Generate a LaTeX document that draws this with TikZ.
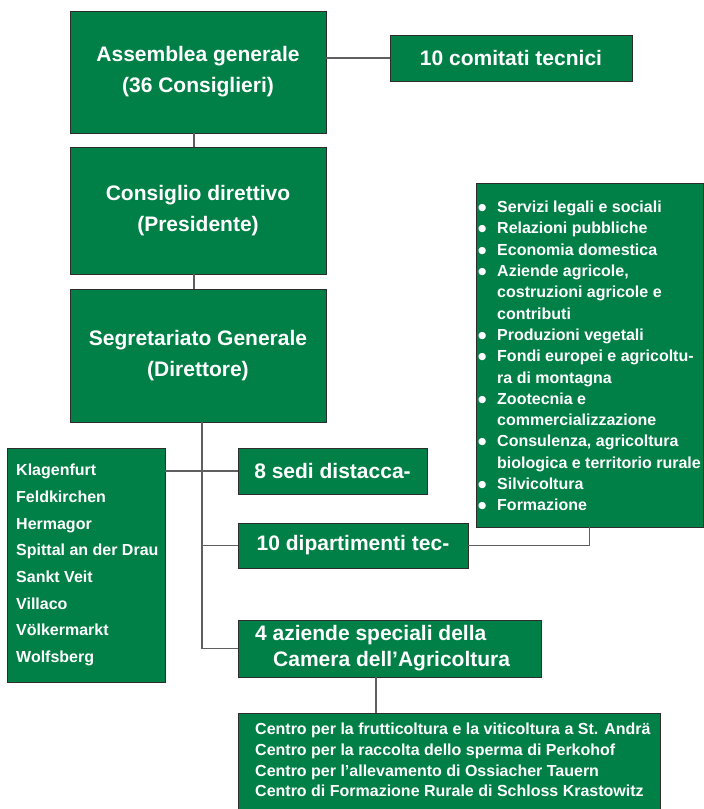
\documentclass[tikz,border=0pt]{standalone}
\usepackage{fontspec}
\setmainfont{Liberation Sans}
\newfontfamily\dejavu{DejaVu Sans}
\usetikzlibrary{calc}
\definecolor{boxgreen}{RGB}{0,128,70}
\definecolor{boxedge}{RGB}{45,45,45}
\definecolor{linkgray}{RGB}{95,95,95}
\newcommand{\bul}{\makebox[19pt][l]{\raisebox{2pt}{\fontsize{9.5}{9.5}\selectfont\dejavu ●}}}
\newcommand{\ind}{\hspace*{19pt}}
\begin{document}
\begin{tikzpicture}[x=1pt,y=-1pt,
  gbox/.style={draw=boxedge, line width=0.9pt, fill=boxgreen, inner sep=0pt, text=white,
    font=\bfseries\fontsize{21}{31}\selectfont, align=center},
  ltext/.style={text=white, inner sep=0pt, anchor=west, align=left},
  link/.style={draw=linkgray, line width=1.3pt}]
\useasboundingbox (0,0) rectangle (704,809);

% boxes
\node[gbox, minimum width=256pt, minimum height=122pt] (asm) at (198,72) {Assemblea generale\\(36 Consiglieri)};
\node[gbox, minimum width=242pt, minimum height=46pt] (ctc) at (511,58) {10 comitati tecnici};
\node[gbox, minimum width=256pt, minimum height=127pt] (cd) at (198,210.5) {Consiglio direttivo\\(Presidente)};
\node[gbox, minimum width=256pt, minimum height=133pt] (sg) at (198,355.5) {Segretariato Generale\\(Direttore)};
\node[gbox, minimum width=227pt, minimum height=344pt] (rl) at (589.5,355) {};
\node[gbox, minimum width=158pt, minimum height=234pt] (lb) at (86,565) {};
\node[gbox, minimum width=189pt, minimum height=46pt] (sd) at (332.5,471) {8 sedi distacca-};
\node[gbox, minimum width=230pt, minimum height=45pt] (dp) at (353,545.5) {10 dipartimenti tec-};
\node[gbox, minimum width=303pt, minimum height=57pt] (az) at (389.5,648.5) {};
\node[gbox, minimum width=422pt, minimum height=99pt] (bb) at (449,762.5) {};

% texts inside list boxes
\node[ltext, font=\bfseries\fontsize{16}{21.3}\selectfont] (rltxt) at (478,356) {%
\bul Servizi legali e sociali\\
\bul Relazioni pubbliche\\
\bul Economia domestica\\
\bul Aziende agricole,\\
\ind costruzioni agricole e\\
\ind contributi\\
\bul Produzioni vegetali\\
\bul Fondi europei e agricoltu-\\
\ind ra di montagna\\
\bul Zootecnia e\\
\ind commercializzazione\\
\bul Consulenza, agricoltura\\
\ind biologica e territorio rurale\\
\bul Silvicoltura\\
\bul Formazione};
\node[ltext, font=\bfseries\fontsize{16}{26.7}\selectfont] (lbtxt) at (16,565) {%
Klagenfurt\\Feldkirchen\\Hermagor\\Spittal an der Drau\\Sankt Veit\\Villaco\\Völkermarkt\\Wolfsberg};
\node[ltext, font=\bfseries\fontsize{21}{26}\selectfont] (aztxt) at (255,648.5) {%
4 aziende speciali della\\\hspace*{18pt}Camera dell’Agricoltura};
\node[ltext, font=\bfseries\fontsize{16}{20.7}\selectfont] (bbtxt) at (255,760) {%
Centro per la frutticoltura e la viticoltura a St. Andrä\\
Centro per la raccolta dello sperma di Perkohof\\
Centro per l’allevamento di Ossiacher Tauern\\
Centro di Formazione Rurale di Schloss Krastowitz};

% connectors
\coordinate (tk) at ([xshift=4pt]sg.south);
\draw[link] (ctc.west) -- (ctc.west -| asm.east);
\draw[link] ([xshift=-4pt]asm.south) -- ([xshift=-4pt]cd.north);
\draw[link] ([xshift=-4pt]cd.south) -- ([xshift=-4pt]sg.north);
\draw[link] (tk) |- (az.west);
\draw[link] (sd.west) -- (sd.west -| lb.east);
\draw[link] (dp.west) -- (dp.west -| tk);
\draw[link] (rl.south) |- (dp.east);
\draw[link] ([xshift=-13.5pt]az.south) -- ([xshift=-13.5pt]az.south |- bb.north);
\end{tikzpicture}
\end{document}
